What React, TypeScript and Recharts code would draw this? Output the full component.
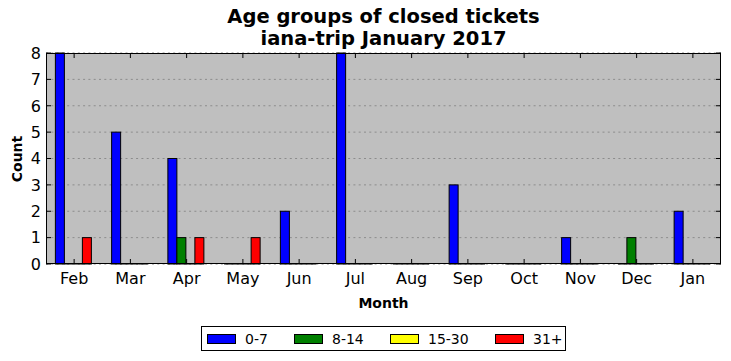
import React from "react";
import { BarChart, Bar, XAxis, YAxis, CartesianGrid } from "recharts";

const months = ["Feb", "Mar", "Apr", "May", "Jun", "Jul", "Aug", "Sep", "Oct", "Nov", "Dec", "Jan"];
const age0to7 = [8, 5, 4, 0, 2, 8, 0, 3, 0, 1, 0, 2];
const age8to14 = [0, 0, 1, 0, 0, 0, 0, 0, 0, 0, 1, 0];
const age15to30 = [0, 0, 0, 0, 0, 0, 0, 0, 0, 0, 0, 0];
const age31plus = [1, 0, 1, 1, 0, 0, 0, 0, 0, 0, 0, 0];
const yTicks = [0, 1, 2, 3, 4, 5, 6, 7, 8];

const series = [
  { key: "g0", name: "0-7", color: "#0000ff", values: age0to7 },
  { key: "g1", name: "8-14", color: "#008000", values: age8to14 },
  { key: "g2", name: "15-30", color: "#ffff00", values: age15to30 },
  { key: "g3", name: "31+", color: "#ff0000", values: age31plus },
];

const data = months.map((m, i) => {
  const row: any = { month: m };
  series.forEach(s => { row[s.key] = s.values[i]; });
  return row;
});

const W = 731, H = 361;
const X_AXIS_H = 30, Y_AXIS_W = 30;
const M = { top: 53, right: 10, left: 46 - Y_AXIS_W, bottom: 97 - X_AXIS_H };
const PLOT_L = M.left + Y_AXIS_W;
const PLOT_W = W - PLOT_L - M.right;
const PLOT_H = H - M.top - M.bottom - X_AXIS_H;
const FONT = "'DejaVu Sans', sans-serif";
const X_MARGIN = 8;
const Y_MARGIN = 5;
const TICK_FONT = 16;

// matplotlib draws zero height bars as a thin edge line
const BarShape = (props: any) => {
  const { x, y, width, height, fill } = props;
  if (!height) {
    return <line x1={x} x2={x + width} y1={y} y2={y} stroke="#000" strokeWidth={1} />;
  }
  return <rect x={x} y={y} width={width} height={height} fill={fill} stroke="#000" strokeWidth={1} />;
};

// ticks point inward, on both sides of the frame
const XTick = ({ x, y, payload }: any) => {
  const axisY = y - X_MARGIN;
  return (
    <g>
      <line x1={x} x2={x} y1={axisY} y2={axisY - 5} stroke="#000" />
      <line x1={x} x2={x} y1={axisY - PLOT_H} y2={axisY - PLOT_H + 5} stroke="#000" />
      <text x={x} y={y} dy="0.76em" textAnchor="middle" fontSize={TICK_FONT} fontFamily={FONT} fill="#000">
        {payload.value}
      </text>
    </g>
  );
};

const YTick = ({ x, y, payload }: any) => {
  const axisX = x + Y_MARGIN;
  return (
    <g>
      <line x1={axisX} x2={axisX + 5} y1={y} y2={y} stroke="#000" />
      <line x1={axisX + PLOT_W} x2={axisX + PLOT_W - 5} y1={y} y2={y} stroke="#000" />
      <text x={x} y={y} dy="0.36em" textAnchor="end" fontSize={TICK_FONT} fontFamily={FONT} fill="#000">
        {payload.value}
      </text>
    </g>
  );
};

const legendWidths = [87, 96, 105, undefined];

export default function App() {
  return (
    <div style={{ position: "absolute", left: 0, top: 0, width: W, height: H, background: "#fff", fontFamily: FONT }}>
      <div style={{ position: "absolute", left: PLOT_L, width: PLOT_W, top: 6, textAlign: "center", fontWeight: "bold", fontSize: 19.5, lineHeight: "22px" }}>
        Age groups of closed tickets<br />iana-trip January 2017
      </div>
      <BarChart width={W} height={H} data={data} margin={M} barCategoryGap="16.67%" barGap={0}>
        <CartesianGrid fill="#bfbfbf" vertical={false} stroke="#8c8c8c" strokeDasharray="2 3.3" />
        <XAxis dataKey="month" height={X_AXIS_H} axisLine={false} tickLine={false} tickSize={0} tickMargin={X_MARGIN} tick={<XTick />} interval={0} />
        <YAxis domain={[0, 8]} ticks={yTicks} width={Y_AXIS_W} axisLine={false} tickLine={false} tickSize={0} tickMargin={Y_MARGIN} tick={<YTick />} interval={0} />
        {series.map(s => (
          <Bar key={s.key} dataKey={s.key} name={s.name} fill={s.color} shape={<BarShape />} isAnimationActive={false} />
        ))}
      </BarChart>
      <div style={{ position: "absolute", left: PLOT_L, top: M.top, width: PLOT_W, height: PLOT_H, boxSizing: "border-box", border: "1px solid #000", pointerEvents: "none" }} />
      <div style={{ position: "absolute", left: PLOT_L, width: PLOT_W, top: 295, textAlign: "center", fontWeight: "bold", fontSize: 14 }}>
        Month
      </div>
      <div style={{ position: "absolute", left: 17, top: 159, transform: "translate(-50%, -50%) rotate(-90deg)", fontWeight: "bold", fontSize: 14 }}>
        Count
      </div>
      <div style={{ position: "absolute", left: 201, top: 326, width: 365, height: 25, boxSizing: "border-box", border: "1px solid #000", display: "flex", alignItems: "center", paddingLeft: 5, fontSize: 14 }}>
        {series.map((s, i) => (
          <div key={s.key} style={{ display: "flex", alignItems: "center", flex: "none", width: legendWidths[i] }}>
            <span style={{ display: "inline-block", width: 27, height: 8, background: s.color, border: "1px solid #000", marginRight: 9 }} />
            <span>{s.name}</span>
          </div>
        ))}
      </div>
    </div>
  );
}
